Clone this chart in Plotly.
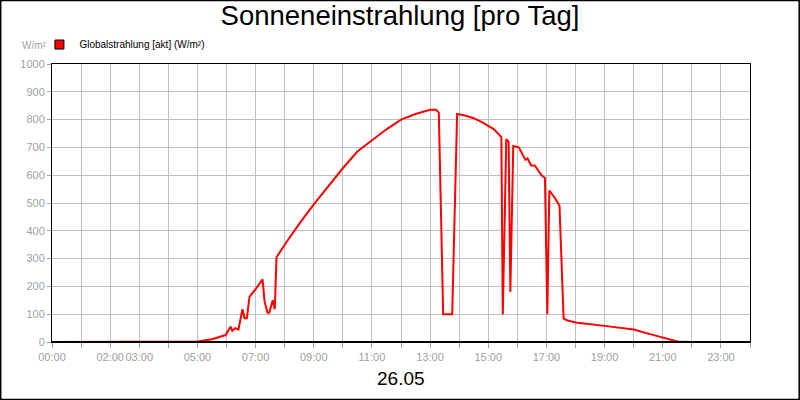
import plotly.graph_objects as go

hours = [0, 4.5, 5.0, 5.5, 5.97, 6.14, 6.2, 6.3, 6.41, 6.55, 6.62, 6.7, 6.79, 7.07, 7.15, 7.24, 7.31, 7.41, 7.47, 7.59, 7.66, 7.72,
         8.1, 8.5, 9.0, 9.5, 10.0, 10.5, 11.0, 11.5, 12.0, 12.5, 13.0, 13.2, 13.3, 13.45, 13.76, 13.93, 14.2, 14.5, 14.8, 15.2, 15.45, 15.5,
         15.62, 15.7, 15.76, 15.86, 16.05, 16.28, 16.35, 16.48, 16.6, 16.83, 16.95, 17.03, 17.1, 17.28, 17.45, 17.59,
         17.7, 18.0, 19.0, 20.0, 20.5, 21.0, 21.5, 22.0, 24.0]
values = [0, 0, 2, 10, 25, 55, 40, 50, 45, 118, 85, 85, 162, 200, 210, 225, 145, 105, 105, 150, 118, 305,
          365, 425, 495, 560, 625, 685, 725, 765, 800, 820, 835, 835, 825, 100, 100, 820, 815, 805, 790, 765, 737, 100,
          730, 720, 180, 705, 700, 655, 660, 635, 635, 600, 590, 100, 545, 520, 490, 85,
          78, 70, 58, 45, 30, 15, 2, 0, 0]
tick_hours = [0, 2, 3, 5, 7, 9, 11, 13, 15, 17, 19, 21, 23]
tick_labels = ["00:00", "02:00", "03:00", "05:00", "07:00", "09:00", "11:00", "13:00", "15:00", "17:00", "19:00", "21:00", "23:00"]

fig = go.Figure()
fig.add_trace(go.Scatter(x=hours, y=values, mode="lines", line=dict(color="#ff0000", width=2),
                         showlegend=False))
fig.add_trace(go.Scatter(x=[None], y=[None], mode="markers",
                         marker=dict(symbol="square", size=9, color="#ff0000", line=dict(color="black", width=1)),
                         name="Globalstrahlung [akt] (W/m²)"))
grid = "#c0c0c0"
FONT = "Liberation Sans, Arial"
fig.update_layout(
    width=800, height=400, paper_bgcolor="white", plot_bgcolor="white",
    margin=dict(l=52, r=50, t=64, b=58, autoexpand=False),
    font=dict(family=FONT, color="#a0a0a0", size=11),
    title=dict(text="Sonneneinstrahlung [pro Tag]", x=0.5, xanchor="center", y=0.985, yanchor="top",
               font=dict(size=27.5, color="black", family=FONT)),
    showlegend=True,
    legend=dict(x=-0.018, y=1.07, xanchor="left", yanchor="middle", orientation="h",
                font=dict(size=10, color="black", family=FONT), itemwidth=30, bgcolor="rgba(0,0,0,0)"),
    xaxis=dict(range=[0, 24], tickvals=tick_hours, ticktext=tick_labels, showgrid=False, tickangle=0,
               automargin=False,
               ticks="outside", ticklen=5, tickcolor="#a0a0a0", tickfont=dict(size=11, color="#a0a0a0"),
               minor=dict(dtick=1, tick0=0, showgrid=True, gridcolor=grid, ticks="outside", ticklen=5, tickcolor="#a0a0a0"),
               showline=True, linecolor="black", mirror=True, zeroline=False),
    yaxis=dict(range=[0, 1000], dtick=100, gridcolor=grid, showgrid=True, ticks="outside", ticklen=4,
               automargin=False,
               tickcolor="#a0a0a0", tickfont=dict(size=11, color="#a0a0a0"),
               showline=True, linecolor="black", mirror=True, zeroline=False),
    shapes=[dict(type="rect", xref="paper", yref="paper", x0=-0.0735, x1=1.0705, y0=-0.2065, y1=1.2285,
                 line=dict(color="black", width=1.5), fillcolor="rgba(0,0,0,0)", layer="below"),
            dict(type="line", xref="paper", yref="y", x0=0, x1=1, y0=0, y1=0, line=dict(color="black", width=2))],
    annotations=[
        dict(text="W/m²", xref="paper", yref="paper", x=-0.046, y=1.065, xanchor="left", yanchor="middle",
             showarrow=False, font=dict(size=10, color="#a0a0a0")),
        dict(text="26.05", xref="paper", yref="paper", x=0.5, y=-0.13, xanchor="center", yanchor="middle",
             showarrow=False, font=dict(size=19, color="black")),
    ],
)
fig.write_html("out.html", config={"displayModeBar": False},
               post_script="document.body.style.margin='0';")
